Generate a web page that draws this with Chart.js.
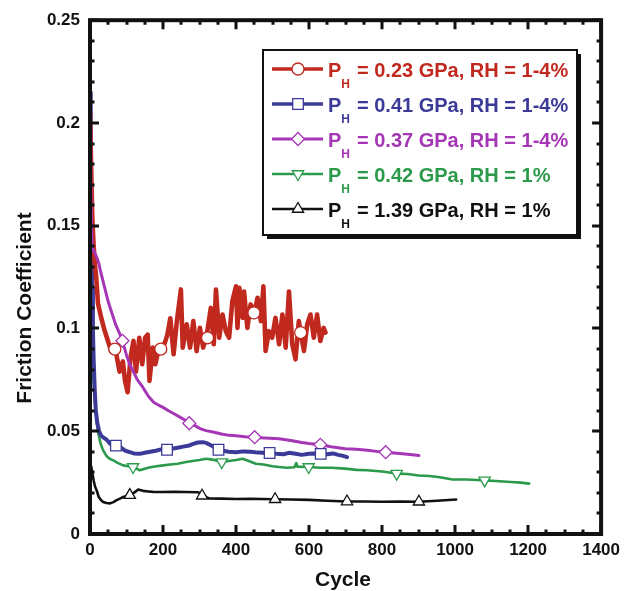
<!DOCTYPE html>
<html>
<head>
<meta charset="utf-8">
<title>Friction Coefficient vs Cycle</title>
<script src="https://cdn.jsdelivr.net/npm/chart.js"></script>
<style>
  html, body { margin: 0; padding: 0; background: #ffffff; }
  canvas { display: block; }
</style>
</head>
<body>
<canvas id="chart" width="626" height="591"></canvas>
<script>
// ---- data: friction coefficient against sliding cycle ----
const redCycles = [0, 3, 6, 10, 14, 17, 22, 31, 40, 49, 58, 67, 72, 81, 90, 96, 103, 111, 119, 126, 135, 143, 151, 158, 163, 172, 179, 187, 194, 205, 212, 220, 229, 238, 249, 254, 265, 274, 283, 292, 301, 310, 320, 331, 339, 345, 354, 363, 372, 381, 390, 400, 404, 409, 418, 422, 431, 440, 450, 459, 468, 475, 481, 490, 499, 508, 518, 527, 536, 545, 554, 563, 572, 577, 586, 595, 604, 613, 622, 631, 640, 645];
const redFriction = [0.205, 0.18, 0.155, 0.14, 0.13, 0.125, 0.112, 0.105, 0.099, 0.094, 0.089, 0.0895, 0.0875, 0.079, 0.084, 0.0745, 0.069, 0.0858, 0.094, 0.079, 0.0955, 0.0826, 0.0955, 0.097, 0.0745, 0.0907, 0.0826, 0.089, 0.09, 0.093, 0.097, 0.105, 0.0875, 0.1036, 0.119, 0.0907, 0.102, 0.0907, 0.1036, 0.089, 0.1003, 0.0907, 0.097, 0.110, 0.0923, 0.119, 0.0955, 0.1068, 0.0987, 0.0955, 0.1133, 0.1205, 0.1003, 0.1198, 0.1052, 0.118, 0.1003, 0.1117, 0.1076, 0.1149, 0.1036, 0.1205, 0.0891, 0.0987, 0.0955, 0.1052, 0.0923, 0.1068, 0.0907, 0.118, 0.0923, 0.085, 0.1036, 0.0979, 0.0891, 0.102, 0.1068, 0.0955, 0.1068, 0.0939, 0.1003, 0.098];
const redMarkCycles = [68, 194, 322, 449, 577];
const redMarkFriction = [0.090, 0.090, 0.0955, 0.1076, 0.098];

const blueCycles = [0, 2, 4, 6, 8, 10, 13, 16, 20, 25, 30, 36, 45, 55, 63, 71, 85, 97, 109, 120, 136, 150, 165, 180, 195, 211, 225, 240, 255, 272, 285, 295, 309, 320, 335, 352, 365, 380, 400, 420, 440, 460, 475, 492, 510, 530, 545, 563, 580, 600, 615, 632, 650, 665, 680, 693, 704];
const blueFriction = [0.215, 0.19, 0.15, 0.12, 0.1, 0.085, 0.07, 0.06, 0.054, 0.05, 0.048, 0.047, 0.046, 0.044, 0.043, 0.043, 0.042, 0.0405, 0.0398, 0.0392, 0.039, 0.0395, 0.04, 0.0405, 0.0412, 0.041, 0.0415, 0.042, 0.0425, 0.0431, 0.044, 0.0445, 0.0447, 0.0442, 0.0428, 0.041, 0.0405, 0.04, 0.0398, 0.0402, 0.04, 0.0396, 0.0395, 0.0394, 0.039, 0.0388, 0.0395, 0.039, 0.0385, 0.039, 0.0392, 0.039, 0.0388, 0.0392, 0.0385, 0.038, 0.0374];
const blueMarkCycles = [71, 211, 352, 492, 632];
const blueMarkFriction = [0.043, 0.041, 0.041, 0.0394, 0.039];

const purpleCycles = [0, 2, 4, 6, 10, 15, 20, 25, 30, 40, 50, 59, 70, 80, 89, 100, 110, 118, 130, 145, 160, 175, 190, 200, 215, 230, 245, 260, 272, 290, 305, 318, 340, 360, 381, 400, 425, 451, 480, 518, 550, 580, 600, 631, 660, 680, 699, 730, 760, 785, 810, 840, 870, 901];
const purpleFriction = [0.205, 0.175, 0.15, 0.14, 0.138, 0.136, 0.134, 0.131, 0.127, 0.12, 0.113, 0.108, 0.102, 0.098, 0.094, 0.087, 0.082, 0.0794, 0.075, 0.0713, 0.067, 0.064, 0.0625, 0.0616, 0.06, 0.0585, 0.057, 0.0555, 0.054, 0.0525, 0.051, 0.0503, 0.0495, 0.0487, 0.048, 0.0478, 0.0473, 0.047, 0.0467, 0.0463, 0.0455, 0.0445, 0.044, 0.0434, 0.0425, 0.042, 0.0415, 0.0412, 0.0408, 0.0402, 0.0398, 0.0393, 0.0388, 0.0382];
const purpleMarkCycles = [89, 272, 451, 631, 810];
const purpleMarkFriction = [0.094, 0.0539, 0.0471, 0.0434, 0.0398];

const greenCycles = [0, 2, 4, 6, 8, 11, 14, 18, 23, 29, 36, 45, 54, 64, 77, 91, 105, 118, 128, 136, 150, 165, 182, 200, 220, 240, 263, 285, 300, 318, 335, 361, 380, 400, 418, 435, 454, 475, 500, 518, 540, 560, 565, 568, 599, 630, 660, 699, 730, 760, 800, 840, 870, 900, 930, 953, 990, 1030, 1060, 1081, 1110, 1153, 1180, 1203];
const greenFriction = [0.15, 0.12, 0.1, 0.088, 0.08, 0.07, 0.063, 0.055, 0.0488, 0.044, 0.0407, 0.038, 0.0366, 0.0358, 0.0345, 0.0334, 0.033, 0.0326, 0.0318, 0.031, 0.0318, 0.0325, 0.033, 0.0334, 0.0338, 0.0342, 0.035, 0.0356, 0.036, 0.0366, 0.0362, 0.035, 0.0355, 0.036, 0.0366, 0.0355, 0.0342, 0.0338, 0.033, 0.0326, 0.0322, 0.0325, 0.0345, 0.0328, 0.0326, 0.0322, 0.0322, 0.0318, 0.0312, 0.031, 0.0304, 0.0294, 0.0292, 0.0285, 0.0282, 0.0277, 0.0266, 0.0265, 0.0263, 0.0261, 0.0258, 0.0253, 0.025, 0.0245];
const greenMarkCycles = [118, 361, 599, 840, 1081];
const greenMarkFriction = [0.0326, 0.035, 0.0326, 0.0294, 0.0261];

const blackCycles = [0, 3, 6, 10, 14, 18, 24, 30, 36, 45, 55, 64, 73, 82, 91, 100, 109, 120, 132, 145, 160, 172, 200, 230, 260, 295, 307, 320, 327, 360, 400, 440, 470, 507, 550, 600, 650, 704, 750, 800, 850, 901, 950, 1003];
const blackFriction = [0.034, 0.033, 0.03, 0.026, 0.023, 0.0213, 0.018, 0.0165, 0.0156, 0.0151, 0.0149, 0.0155, 0.0165, 0.0172, 0.018, 0.0185, 0.0189, 0.02, 0.0216, 0.021, 0.0207, 0.0205, 0.0204, 0.0205, 0.0204, 0.0203, 0.0196, 0.0178, 0.0173, 0.0172, 0.017, 0.0171, 0.017, 0.0169, 0.0168, 0.0166, 0.0162, 0.0158, 0.0158, 0.0157, 0.0158, 0.0157, 0.0162, 0.0168];
const blackMarkCycles = [109, 307, 507, 704, 901];
const blackMarkFriction = [0.0189, 0.0186, 0.0169, 0.0158, 0.0157];

// legend text: contact pressure P_H and relative humidity
const seriesPressure = ['0.23', '0.41', '0.37', '0.42', '1.39'];
const seriesHumidity = ['1-4%', '1-4%', '1-4%', '1%', '1%'];

// axis ticks
const xMajorTicks = [0, 200, 400, 600, 800, 1000, 1200, 1400];
const yMajorTicks = [0, 0.05, 0.1, 0.15, 0.2, 0.25];
const xTitle = 'Cycle';
const yTitle = 'Friction Coefficient';

// ---- appearance ----
const FONT = "'Liberation Sans', Arial, Helvetica, sans-serif";
const INK = '#111111';
const series = [
  { cyc: redCycles, val: redFriction, mc: redMarkCycles, mv: redMarkFriction,
    color: '#c1291f', width: 4.6, style: 'circle', rot: 0, r: 6 },
  { cyc: blueCycles, val: blueFriction, mc: blueMarkCycles, mv: blueMarkFriction,
    color: '#3c3a98', width: 4, style: 'rect', rot: 0, r: 7.5 },
  { cyc: purpleCycles, val: purpleFriction, mc: purpleMarkCycles, mv: purpleMarkFriction,
    color: '#a536b5', width: 3, style: 'rectRot', rot: 0, r: 6.5 },
  { cyc: greenCycles, val: greenFriction, mc: greenMarkCycles, mv: greenMarkFriction,
    color: '#2b9a4b', width: 2.6, style: 'triangle', rot: 180, r: 6.5 },
  { cyc: blackCycles, val: blackFriction, mc: blackMarkCycles, mv: blackMarkFriction,
    color: '#111111', width: 2.6, style: 'triangle', rot: 0, r: 6.5 }
];
// drawing order: purple over red, red over the rest, markers on top
const lineOrder = [2, 4, 1, 5, 6];

const toPoints = (xs, ys) => xs.map((x, i) => ({ x: x, y: ys[i] }));
const labelFor = i => 'PH = ' + seriesPressure[i] + ' GPa, RH = ' + seriesHumidity[i];

const datasets = [];
series.forEach((s, i) => {
  datasets.push({
    label: labelFor(i),
    data: toPoints(s.cyc, s.val),
    borderColor: s.color,
    borderWidth: s.width,
    pointRadius: 0,
    tension: 0,
    fill: false,
    order: lineOrder[i]
  });
});
series.forEach((s, i) => {
  datasets.push({
    label: labelFor(i) + ' markers',
    data: toPoints(s.mc, s.mv),
    showLine: false,
    pointStyle: s.style,
    pointRotation: s.rot,
    pointRadius: s.r,
    pointBorderWidth: 1.3,
    pointBorderColor: s.color,
    pointBackgroundColor: '#ffffff',
    order: 0
  });
});

// frame with inward ticks, axis titles and the boxed legend
const framePlugin = {
  id: 'frame',
  afterDatasetsDraw(chart) {
    const { ctx, chartArea: a, scales: { x, y } } = chart;
    ctx.save();
    ctx.strokeStyle = INK;
    ctx.lineCap = 'butt';
    // minor / major ticks on all four sides
    ctx.lineWidth = 3;
    for (let i = 0; i <= 28; i++) {
      const v = i * 50;
      const px = Math.round(x.getPixelForValue(v));
      const len = (v % 200 === 0) ? 9 : 4.5;
      ctx.beginPath();
      ctx.moveTo(px, a.bottom); ctx.lineTo(px, a.bottom - len);
      ctx.moveTo(px, a.top); ctx.lineTo(px, a.top + len);
      ctx.stroke();
    }
    for (let i = 0; i <= 25; i++) {
      const v = i * 0.01;
      const py = Math.round(y.getPixelForValue(v));
      const len = (i % 5 === 0) ? 9 : 4.5;
      ctx.beginPath();
      ctx.moveTo(a.left, py); ctx.lineTo(a.left + len, py);
      ctx.moveTo(a.right, py); ctx.lineTo(a.right - len, py);
      ctx.stroke();
    }
    ctx.lineWidth = 4;
    ctx.strokeRect(a.left, a.top, a.right - a.left, a.bottom - a.top);
    ctx.restore();
  },
  afterDraw(chart) {
    const { ctx } = chart;
    ctx.save();
    // axis titles
    ctx.fillStyle = INK;
    ctx.font = 'bold 21px ' + FONT;
    ctx.textAlign = 'center';
    ctx.textBaseline = 'alphabetic';
    ctx.fillText(xTitle, 343, 586);
    ctx.translate(31, 308);
    ctx.rotate(-Math.PI / 2);
    ctx.fillText(yTitle, 0, 0);
    ctx.setTransform(1, 0, 0, 1, 0, 0);

    // legend box with drop shadow
    const bx = 263, by = 50, bw = 314, bh = 185;
    ctx.fillStyle = INK;
    ctx.fillRect(bx + 4, by + 4, bw, bh);
    ctx.fillStyle = '#ffffff';
    ctx.fillRect(bx, by, bw, bh);
    ctx.lineWidth = 2;
    ctx.strokeStyle = INK;
    ctx.strokeRect(bx, by, bw, bh);

    ctx.textAlign = 'left';
    series.forEach((s, i) => {
      const base = 76.5 + 35 * i;
      const ly = base - 7.5;
      ctx.strokeStyle = s.color;
      ctx.lineWidth = Math.min(s.width, 3.5);
      ctx.beginPath();
      ctx.moveTo(272, ly); ctx.lineTo(323, ly);
      ctx.stroke();
      ctx.fillStyle = '#ffffff';
      ctx.lineWidth = 1.3;
      Chart.helpers.drawPoint(ctx, {
        pointStyle: s.style, rotation: s.rot, radius: s.r, borderWidth: 1.3
      }, 298, ly);

      ctx.fillStyle = s.color;
      ctx.font = 'bold 20px ' + FONT;
      ctx.fillText('P', 328, base);
      let tx = 328 + ctx.measureText('P').width;
      ctx.font = 'bold 12px ' + FONT;
      ctx.fillText('H', tx, base + 11);
      tx += ctx.measureText('H').width + 7;
      ctx.font = 'bold 20px ' + FONT;
      ctx.fillText('= ' + seriesPressure[i] + ' GPa, RH = ' + seriesHumidity[i], tx, base);
    });
    ctx.restore();
  }
};

new Chart(document.getElementById('chart'), {
  type: 'line',
  data: { datasets: datasets },
  options: {
    responsive: false,
    animation: false,
    devicePixelRatio: 1,
    layout: { padding: { top: 18, right: 22, left: 0, bottom: 0 } },
    plugins: { legend: { display: false }, tooltip: { enabled: false }, title: { display: false } },
    elements: { line: { borderJoinStyle: 'round', borderCapStyle: 'round' } },
    scales: {
      x: {
        type: 'linear', min: 0, max: 1400,
        grid: { display: false, drawTicks: false },
        border: { display: false },
        afterBuildTicks: s => { s.ticks = xMajorTicks.map(v => ({ value: v })); },
        afterFit: s => { s.height = 57; },
        ticks: {
          autoSkip: false, maxRotation: 0, minRotation: 0, padding: 6,
          color: INK, font: { family: FONT, size: 17, weight: 'bold' },
          callback: v => String(v)
        }
      },
      y: {
        type: 'linear', min: 0, max: 0.25,
        grid: { display: false, drawTicks: false },
        border: { display: false },
        afterBuildTicks: s => { s.ticks = yMajorTicks.map(v => ({ value: v })); },
        afterFit: s => { s.width = 90; },
        ticks: {
          autoSkip: false, padding: 10,
          color: INK, font: { family: FONT, size: 17, weight: 'bold' },
          callback: v => (v === 0 ? '0' : String(v))
        }
      }
    }
  },
  plugins: [framePlugin]
});
</script>
</body>
</html>
